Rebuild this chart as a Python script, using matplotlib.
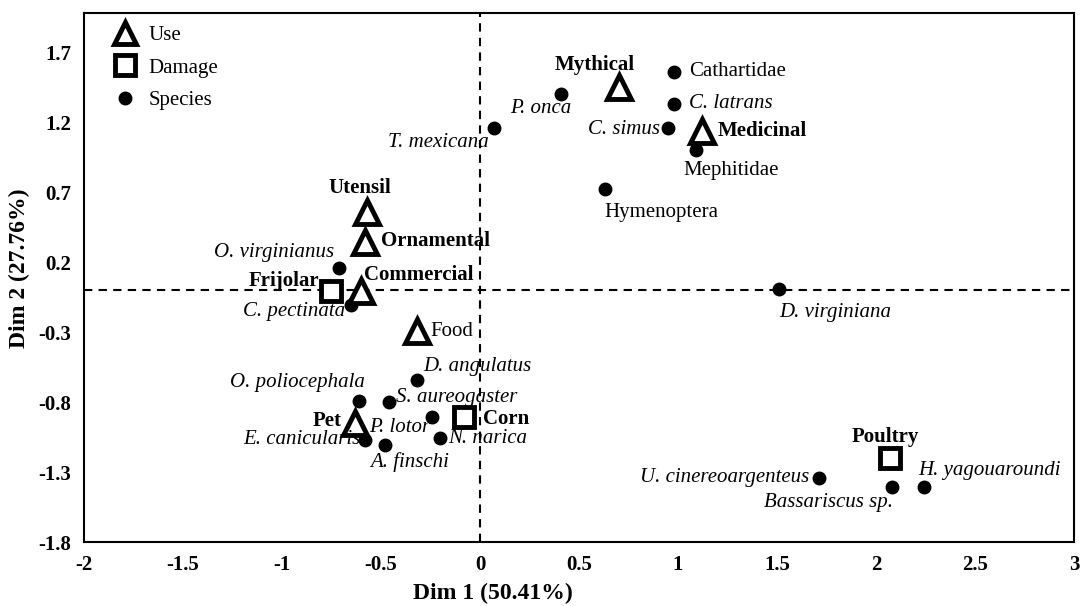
import matplotlib.pyplot as plt
from matplotlib.lines import Line2D

plt.rcParams["font.family"] = "Liberation Serif"
plt.rcParams["axes.unicode_minus"] = False

# ---------------------------
# DATA
# ---------------------------
species = ["T. mexicana", "P. onca", "Cathartidae", "C. latrans", "C. simus",
           "Mephitidae", "Hymenoptera", "O. virginianus", "C. pectinata",
           "D. virginiana", "D. angulatus", "O. poliocephala", "S. aureogaster",
           "P. lotor", "N. narica", "E. canicularis", "A. finschi",
           "U. cinereoargenteus", "Bassariscus sp.", "H. yagouaroundi"]
species_x = [0.07, 0.41, 0.98, 0.98, 0.95, 1.09, 0.63, -0.71, -0.65, 1.51,
             -0.32, -0.61, -0.46, -0.24, -0.20, -0.58, -0.48, 1.71, 2.08, 2.24]
species_y = [1.16, 1.40, 1.56, 1.33, 1.16, 1.00, 0.72, 0.16, -0.11, 0.01,
             -0.64, -0.79, -0.80, -0.91, -1.06, -1.07, -1.11, -1.34, -1.41, -1.41]
# family / order names are not in italics
not_italic = ["Cathartidae", "Mephitidae", "Hymenoptera"]

uses = ["Mythical", "Medicinal", "Utensil", "Ornamental", "Commercial", "Food", "Pet"]
use_x = [0.70, 1.12, -0.57, -0.58, -0.60, -0.32, -0.63]
use_y = [1.45, 1.14, 0.56, 0.34, -0.01, -0.29, -0.95]

damages = ["Frijolar", "Corn", "Poultry"]
damage_x = [-0.75, -0.08, 2.07]
damage_y = [-0.01, -0.91, -1.20]

# label placement: (dx px, dy px, ha)
offsets = {
    "T. mexicana": (-55, -15, "center"),
    "P. onca": (-20, -14, "center"),
    "Cathartidae": (15, 0, "left"),
    "C. latrans": (15, 0, "left"),
    "C. simus": (-8, -2, "right"),
    "Mephitidae": (35, -20, "center"),
    "Hymenoptera": (57, -23, "center"),
    "O. virginianus": (-5, 15, "right"),
    "C. pectinata": (-6, -6, "right"),
    "D. virginiana": (56, -24, "center"),
    "D. angulatus": (7, 13, "left"),
    "O. poliocephala": (6, 18, "right"),
    "S. aureogaster": (7, 5, "left"),
    "P. lotor": (-2, -10, "right"),
    "N. narica": (8, 0, "left"),
    "E. canicularis": (-5, 0, "right"),
    "A. finschi": (25, -17, "center"),
    "U. cinereoargenteus": (-9, 0, "right"),
    "Bassariscus sp.": (-63, -15, "center"),
    "H. yagouaroundi": (-5, 17, "left"),
    "Mythical": (-24, 22, "center"),
    "Medicinal": (16, 0, "left"),
    "Utensil": (-7, 24, "center"),
    "Ornamental": (16, 1, "left"),
    "Commercial": (3, 16, "left"),
    "Food": (14, -1, "left"),
    "Pet": (-14, 2, "right"),
    "Frijolar": (-12, 10, "right"),
    "Corn": (19, -2, "left"),
    "Poultry": (-5, 21, "center"),
}

# ---------------------------
# PLOT
# ---------------------------
fig = plt.figure(figsize=(10.82, 6.06), dpi=100)
ax = fig.add_axes([0.0776, 0.1056, 0.915, 0.873])

ax.axhline(0, color="black", ls=(0, (4, 3)), lw=1.5, zorder=1)
ax.axvline(0, color="black", ls=(0, (4, 3)), lw=1.5, zorder=1)

ax.plot(species_x, species_y, "o", color="black", ms=9, ls="none", zorder=3)
ax.plot(use_x, use_y, "^", mfc="white", mec="black", mew=3.5, ms=17, ls="none", zorder=4)
ax.plot(damage_x, damage_y, "s", mfc="white", mec="black", mew=3.5, ms=15, ls="none", zorder=4)


def label(names, xs, ys, **kw):
    for n, x, y in zip(names, xs, ys):
        dx, dy, ha = offsets[n]
        ax.annotate(n, (x, y), xytext=(dx, dy), textcoords="offset pixels",
                    ha=ha, va="center", fontsize=15, zorder=5, **kw)


for n, x, y in zip(species, species_x, species_y):
    label([n], [x], [y], style="normal" if n in not_italic else "italic")
label(uses[:5] + uses[6:], use_x[:5] + use_x[6:], use_y[:5] + use_y[6:], fontweight="bold")
label(["Food"], [use_x[5]], [use_y[5]])
label(damages, damage_x, damage_y, fontweight="bold")

ax.set_xlim(-2, 3)
ax.set_ylim(-1.8, 1.98)
ax.set_xticks([-2, -1.5, -1, -0.5, 0, 0.5, 1, 1.5, 2, 2.5, 3])
ax.set_xticklabels(["-2", "-1.5", "-1", "-0.5", "0", "0.5", "1", "1.5", "2", "2.5", "3"])
ax.set_yticks([-1.8, -1.3, -0.8, -0.3, 0.2, 0.7, 1.2, 1.7])
ax.tick_params(length=0, labelsize=15, pad=9)
for t in ax.get_xticklabels() + ax.get_yticklabels():
    t.set_fontweight("bold")
for s in ax.spines.values():
    s.set_linewidth(1.5)

ax.set_xlabel("Dim 1 (50.41%)", fontsize=17, fontweight="bold")
ax.set_ylabel("Dim 2 (27.76%)", fontsize=17, fontweight="bold")
ax.xaxis.set_label_coords(0.413, -0.077)
ax.yaxis.set_label_coords(-0.054, 0.518)

handles = [
    Line2D([], [], marker="^", ls="none", mfc="white", mec="black", mew=3.5, ms=16, label="Use"),
    Line2D([], [], marker="s", ls="none", mfc="white", mec="black", mew=3.5, ms=14, label="Damage"),
    Line2D([], [], marker="o", ls="none", color="black", ms=9, label="Species"),
]
ax.legend(handles=handles, loc="upper left", bbox_to_anchor=(0.008, 1.0), frameon=False,
          fontsize=15, handletextpad=0.1, labelspacing=0.62, borderaxespad=0.3, borderpad=0.3)

plt.savefig("out.png")
